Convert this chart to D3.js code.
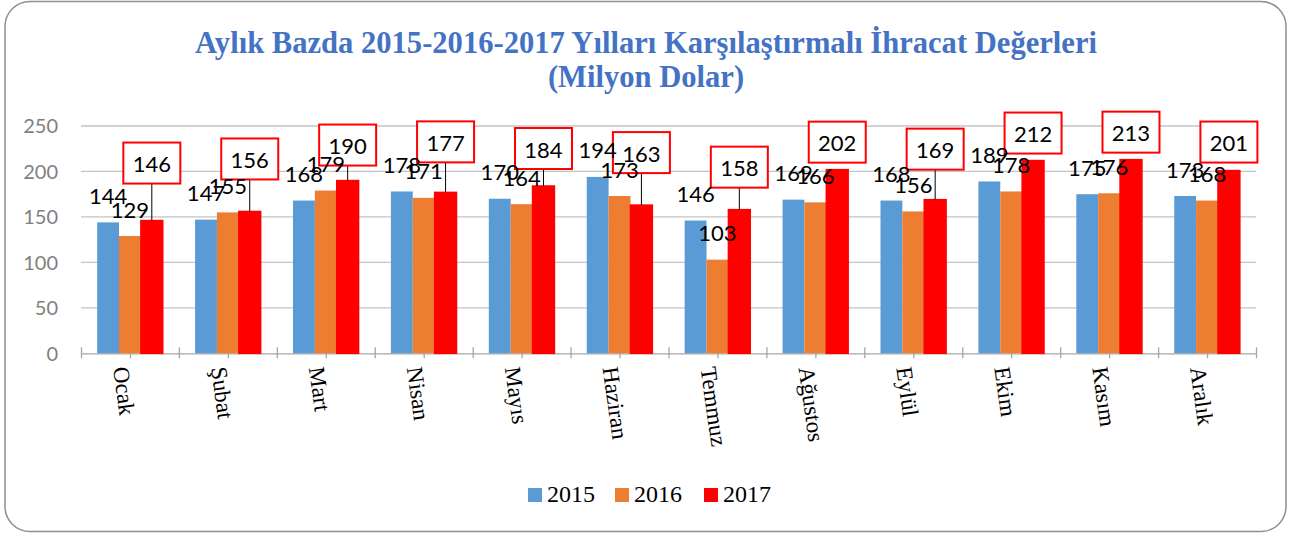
<!DOCTYPE html>
<html>
<head>
<meta charset="utf-8">
<script src="https://cdn.jsdelivr.net/npm/d3@7"></script>
<style>
  body { margin: 0; background: #fff; }
  svg { display: block; }
</style>
</head>
<body>
<svg width="1302" height="533"></svg>
<script>
const months = ["Ocak", "Şubat", "Mart", "Nisan", "Mayıs", "Haziran",
                "Temmuz", "Ağustos", "Eylül", "Ekim", "Kasım", "Aralık"];
const years = ["2015", "2016", "2017"];
const values2015 = [144, 147, 168, 178, 170, 194, 146, 169, 168, 189, 175, 173];
const values2016 = [129, 155, 179, 171, 164, 173, 103, 166, 156, 178, 176, 168];
const values2017 = [146, 156, 190, 177, 184, 163, 158, 202, 169, 212, 213, 201];
const yTicks = [0, 50, 100, 150, 200, 250];
const titleLines = ["Aylık Bazda 2015-2016-2017 Yılları Karşılaştırmalı İhracat Değerleri",
                    "(Milyon Dolar)"];

// the 2017 callouts were dragged by hand in the original, gap above bar in px
const calloutGap = [37, 32, 15, 30, 17, 32, 22, 7, 30, 7, 7, 8];

const colors = { "2015": "#5B9BD5", "2016": "#ED7D31", "2017": "#FF0000" };
const series = { "2015": values2015, "2016": values2016, "2017": values2017 };

const svg = d3.select("svg");

// outer frame
svg.append("rect")
    .attr("x", 5).attr("y", 1.5)
    .attr("width", 1281).attr("height", 530)
    .attr("rx", 25).attr("ry", 25)
    .attr("fill", "#fff")
    .attr("stroke", "#8f8f8f")
    .attr("stroke-width", 1.5);

// title, sized so the first line spans the same width as the original
const title = svg.append("g").selectAll("text")
    .data(titleLines)
    .join("text")
    .attr("x", 646)
    .attr("y", (d, i) => 53 + i * 34)
    .attr("text-anchor", "middle")
    .attr("font-family", "Liberation Serif, serif")
    .attr("font-weight", "bold")
    .attr("font-size", 26)
    .attr("fill", "#4472C4")
    .text(d => d);
const titleW = title.node().getComputedTextLength();
title.attr("font-size", Math.min(31, 26 * 902 / titleW));

const x0 = d3.scaleBand()
    .domain(months)
    .range([81, 1256])
    .paddingInner(0.33)
    .paddingOuter(0.165);

const x1 = d3.scaleBand()
    .domain(years)
    .range([0, x0.bandwidth()]);

const y = d3.scaleLinear()
    .domain([0, 250])
    .range([353.3, 126]);

// gridlines
svg.append("g").selectAll("line")
    .data(yTicks.slice(1))
    .join("line")
    .attr("x1", 81).attr("x2", 1256)
    .attr("y1", d => y(d)).attr("y2", d => y(d))
    .attr("stroke", "#c4c4c4")
    .attr("stroke-width", 1.3);

// y axis labels
svg.append("g").selectAll("text")
    .data(yTicks)
    .join("text")
    .attr("x", 58)
    .attr("y", d => y(d))
    .attr("dy", "0.36em")
    .attr("text-anchor", "end")
    .attr("font-family", "Lato, sans-serif")
    .attr("font-size", 20)
    .attr("fill", "#7f7f7f")
    .text(d => d);

// x axis: ticks at every category edge and centre
const tickScale = d3.scaleLinear().domain([0, months.length * 2]).range([81, 1256]);
const xAxis = svg.append("g")
    .attr("transform", `translate(0,${y(0)})`)
    .call(d3.axisBottom(tickScale).ticks(months.length * 2).tickFormat("").tickSizeOuter(0));
xAxis.select(".domain").attr("stroke", "#a6a6a6").attr("stroke-width", 1.3);
xAxis.selectAll(".tick line")
    .attr("y1", -6).attr("y2", 5)
    .attr("stroke", "#a6a6a6").attr("stroke-width", 1.3);

// bars
const groups = svg.append("g").selectAll("g")
    .data(months)
    .join("g")
    .attr("transform", d => `translate(${x0(d)},0)`);

groups.selectAll("rect")
    .data((m, i) => years.map(yr => ({ year: yr, value: series[yr][i] })))
    .join("rect")
    .attr("x", d => x1(d.year))
    .attr("y", d => y(d.value))
    .attr("width", x1.bandwidth())
    .attr("height", d => y(0) - y(d.value))
    .attr("fill", d => colors[d.year])
    .attr("stroke", d => d.year === "2017" ? colors[d.year] : "none")
    .attr("stroke-width", 1.5);

// 2017 callouts with leader lines
const boxW = 57, boxH = 41;
const callouts = groups.append("g")
    .datum((m, i) => ({ value: values2017[i], gap: calloutGap[i] }));

callouts.filter(d => d.gap > 10).append("line")
    .attr("x1", x1("2017") + x1.bandwidth() / 2)
    .attr("x2", x1("2017") + x1.bandwidth() / 2)
    .attr("y1", d => y(d.value) - d.gap)
    .attr("y2", d => y(d.value))
    .attr("stroke", "#000")
    .attr("stroke-width", 1);

callouts.append("rect")
    .attr("x", x1("2017") + x1.bandwidth() / 2 - boxW / 2)
    .attr("y", d => y(d.value) - d.gap - boxH)
    .attr("width", boxW)
    .attr("height", boxH)
    .attr("fill", "#fff")
    .attr("stroke", "#FF0000")
    .attr("stroke-width", 2);

callouts.append("text")
    .attr("x", x1("2017") + x1.bandwidth() / 2)
    .attr("y", d => y(d.value) - d.gap - boxH + 29.5)
    .attr("text-anchor", "middle")
    .attr("font-family", "Lato, sans-serif")
    .attr("font-size", 22)
    .attr("fill", "#000")
    .text(d => d.value);

// plain labels for 2015 and 2016, on top of the callout boxes
groups.selectAll("text.plain")
    .data((m, i) => ["2015", "2016"].map(yr => ({ year: yr, value: series[yr][i] })))
    .join("text")
    .attr("class", "plain")
    .attr("x", d => x1(d.year) + x1.bandwidth() / 2)
    .attr("y", d => y(d.value) - 18.5)
    .attr("text-anchor", "middle")
    .attr("font-family", "Lato, sans-serif")
    .attr("font-size", 22)
    .attr("fill", "#000")
    .text(d => d.value);

// month labels, rotated
svg.append("g").selectAll("text")
    .data(months)
    .join("text")
    .attr("transform", d => `translate(${x0(d) + x0.bandwidth() / 2 - 17},368) rotate(82)`)
    .attr("font-family", "Liberation Serif, serif")
    .attr("font-size", 23)
    .attr("fill", "#000")
    .text(d => d);

// legend
const legend = svg.append("g").selectAll("g")
    .data(years)
    .join("g")
    .attr("transform", (d, i) => `translate(${[528, 615, 704][i]},488)`);
legend.append("rect")
    .attr("width", 14).attr("height", 14)
    .attr("fill", d => colors[d]);
legend.append("text")
    .attr("x", 19).attr("y", 14)
    .attr("font-family", "Liberation Serif, serif")
    .attr("font-size", 24)
    .attr("fill", "#000")
    .text(d => d);
</script>
</body>
</html>
